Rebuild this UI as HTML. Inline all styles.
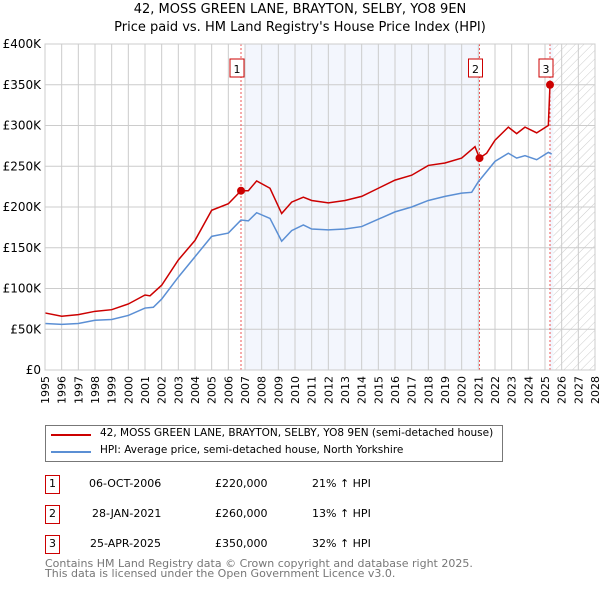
<!DOCTYPE html>
<html><head><meta charset="utf-8"><style>
body{margin:0;background:#fff;font-family:"DejaVu Sans","Liberation Sans",sans-serif;}
#wrap{position:relative;width:600px;height:590px;overflow:hidden;}
.t{position:absolute;font-size:12px;color:#000;white-space:nowrap;}
.box{position:absolute;width:13px;height:17px;border:1px solid #c00;font-size:11px;text-align:center;line-height:16px;}
</style></head><body><div id="wrap">
<div class="t" style="left:0;width:600px;text-align:center;top:2px;font-size:13px">42, MOSS GREEN LANE, BRAYTON, SELBY, YO8 9EN</div>
<div class="t" style="left:0;width:600px;text-align:center;top:20px;font-size:13px">Price paid vs. HM Land Registry's House Price Index (HPI)</div>
<svg id="chart" width="600" height="420" style="position:absolute;left:0;top:0"></svg>
<div style="position:absolute;left:45px;top:425px;width:456px;height:35px;border:1px solid #777">
 <div style="position:absolute;left:5px;top:8px;width:40px;height:2px;background:#c00"></div>
 <div class="t" style="left:54px;top:1px;font-size:10.5px">42, MOSS GREEN LANE, BRAYTON, SELBY, YO8 9EN (semi-detached house)</div>
 <div style="position:absolute;left:5px;top:25px;width:40px;height:2px;background:#5b8fd4"></div>
 <div class="t" style="left:54px;top:18px;font-size:10.5px">HPI: Average price, semi-detached house, North Yorkshire</div>
</div>
<div>
<div class="box" style="left:45px;top:475px">1</div>
<div class="t" style="left:89px;top:477px;font-size:11px">06-OCT-2006</div>
<div class="t" style="left:215px;top:477px;font-size:11px">£220,000</div>
<div class="t" style="left:312px;top:477px;font-size:11px">21% ↑ HPI</div>
<div class="box" style="left:45px;top:505px">2</div>
<div class="t" style="left:92px;top:507px;font-size:11px">28-JAN-2021</div>
<div class="t" style="left:215px;top:507px;font-size:11px">£260,000</div>
<div class="t" style="left:312px;top:507px;font-size:11px">13% ↑ HPI</div>
<div class="box" style="left:45px;top:535px">3</div>
<div class="t" style="left:90px;top:537px;font-size:11px">25-APR-2025</div>
<div class="t" style="left:215px;top:537px;font-size:11px">£350,000</div>
<div class="t" style="left:312px;top:537px;font-size:11px">32% ↑ HPI</div>
</div>
<div class="t" style="left:45px;top:559px;font-size:11px;color:#777;line-height:10px">Contains HM Land Registry data © Crown copyright and database right 2025.<br>This data is licensed under the Open Government Licence v3.0.</div>
</div>
<script>
const yTicks=[0,50,100,150,200,250,300,350,400];
const yTickLabels=["£0","£50K","£100K","£150K","£200K","£250K","£300K","£350K","£400K"];
const xYears=[1995,1996,1997,1998,1999,2000,2001,2002,2003,2004,2005,2006,2007,2008,2009,2010,2011,2012,2013,2014,2015,2016,2017,2018,2019,2020,2021,2022,2023,2024,2025,2026,2027,2028];
const hpiT=[1995,1996,1997,1998,1999,2000,2001,2001.5,2002,2003,2004,2005,2006,2006.76,2007.2,2007.7,2008.5,2009.2,2009.8,2010.5,2011,2012,2013,2014,2015,2016,2017,2018,2019,2020,2020.6,2021,2022,2022.8,2023.3,2023.8,2024.5,2025.2,2025.4];
const hpiV=[57,56,57,61,62,67,76,77,87,114,139,164,168,184,183,193,186,158,171,178,173,172,173,176,185,194,200,208,213,217,218,231,256,266,260,263,258,267,265];
const ppT=[1995,1996,1997,1998,1999,2000,2001,2001.3,2002,2003,2004,2005,2006,2006.76,2007.2,2007.7,2008.5,2009.2,2009.8,2010.5,2011,2012,2013,2014,2015,2016,2017,2018,2019,2020,2020.8,2021.07,2021.5,2022,2022.8,2023.3,2023.8,2024.5,2025.2,2025.3,2025.35];
const ppV=[70,66,68,72,74,81,92,91,104,135,159,196,204,220,220,232,223,192,206,212,208,205,208,213,223,233,239,251,254,260,274,260,266,282,298,290,298,291,300,350,350];
const saleT=[2006.76,2021.07,2025.3];
const saleV=[220,260,350];
const saleLabels=["1","2","3"];

const L=45,R=595,T=44,B=370;
const x=t=>L+(t-1995)/(2028-1995)*(R-L);
const y=v=>B-v/400*(B-T);
const svg=document.getElementById('chart');
const NS='http://www.w3.org/2000/svg';
function mk(tag,attrs){const e=document.createElementNS(NS,tag);for(const k in attrs)e.setAttribute(k,attrs[k]);svg.appendChild(e);return e;}
const defs=mk('defs',{});
defs.innerHTML='<pattern id="h" width="6" height="6" patternUnits="userSpaceOnUse" patternTransform="rotate(45)"><line x1="0" y1="0" x2="0" y2="6" stroke="#ccc" stroke-width="1"/></pattern>';
let e;
e=mk('rect',{x:x(saleT[0])+4,y:T,width:x(saleT[1])-x(saleT[0])-4,height:B-T,fill:'#f3f6fd'});

e=mk('rect',{x:x(saleT[2]),y:T,width:x(2025.5)-x(saleT[2]),height:B-T,fill:'#f3f6fd'});

e=mk('rect',{x:x(2025.5),y:T,width:R-x(2025.5),height:B-T,fill:'url(#h)'});

xYears.forEach(yr=>{
 e=mk('line',{x1:x(yr),x2:x(yr),y1:T,y2:B,stroke:'#ccc','stroke-width':1});
 
 e=mk('text',{x:0,y:0,transform:`translate(${x(yr)+4},${B+6}) rotate(-90)`,'text-anchor':'end','font-size':11,'font-family':'DejaVu Sans, sans-serif'});
 e.textContent=yr;
});
yTicks.forEach((v,i)=>{
 e=mk('line',{x1:L,x2:R,y1:y(v),y2:y(v),stroke:'#ccc','stroke-width':1});
 
 e=mk('text',{x:L-4,y:y(v)+4,'text-anchor':'end','font-size':12,'font-family':'DejaVu Sans, sans-serif'});
 e.textContent=yTickLabels[i];
});
saleT.forEach((t,i)=>{
 e=mk('line',{x1:x(t),x2:x(t),y1:T,y2:B,stroke:'#e55','stroke-width':1,'stroke-dasharray':'2,2'});
 
});
e=mk('polyline',{points:hpiT.map((t,i)=>x(t)+','+y(hpiV[i])).join(' '),fill:'none',stroke:'#5b8fd4','stroke-width':1.5});

e=mk('polyline',{points:ppT.map((t,i)=>x(t)+','+y(ppV[i])).join(' '),fill:'none',stroke:'#c00','stroke-width':1.5});

saleT.forEach((t,i)=>{
 e=mk('circle',{cx:x(t),cy:y(saleV[i]),r:4,fill:'#c00'});
 
 e=mk('rect',{x:x(t)-11,y:59,width:14,height:18,fill:'#fff',stroke:'#c00'});
 
 e=mk('text',{x:x(t)-4,y:73,'text-anchor':'middle','font-size':11,'font-family':'DejaVu Sans, sans-serif'});
 e.textContent=saleLabels[i];
});
e=mk('rect',{x:L,y:T,width:R-L,height:B-T,fill:'none',stroke:'#ccc'});

</script></body></html>
